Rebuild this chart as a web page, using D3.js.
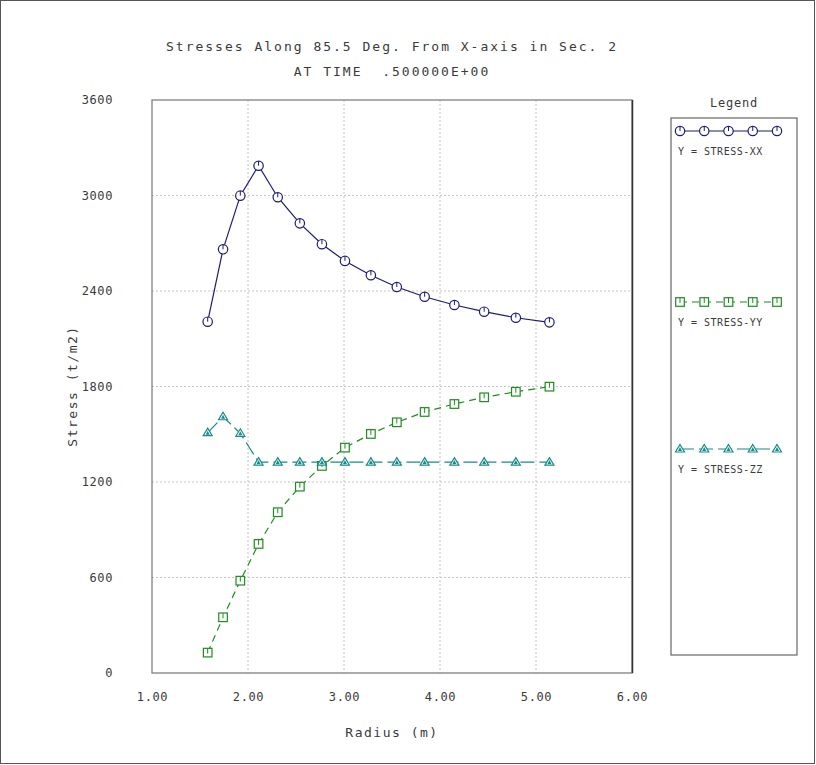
<!DOCTYPE html>
<html lang="en">
<head>
<meta charset="UTF-8">
<title>Stresses Along 85.5 Deg.</title>
<script src="https://d3js.org/d3.v7.min.js"></script>
<style>
    body { margin: 0; background: #fff; }
    svg text { font-family: 'DejaVu Sans Mono', monospace; fill: #3a3a3a; }
</style>
</head>
<body>
<div id="chart"></div>
<script>
    // values
    const radius = [1.58, 1.74, 1.92, 2.11, 2.31, 2.54, 2.77, 3.01, 3.28, 3.55, 3.84, 4.15, 4.46, 4.79, 5.14];
    const stressXX = [2207, 2662, 2999, 3187, 2989, 2825, 2694, 2589, 2499, 2425, 2364, 2312, 2270, 2232, 2203];
    const stressYY = [128, 350, 580, 811, 1010, 1171, 1301, 1416, 1502, 1575, 1640, 1690, 1732, 1767, 1799];
    const stressZZ = [1510, 1610, 1506, 1325, 1325, 1325, 1325, 1325, 1325, 1325, 1325, 1325, 1325, 1325, 1325];
    const xTicks = [1, 2, 3, 4, 5, 6];
    const yTicks = [0, 600, 1200, 1800, 2400, 3000, 3600];
    const seriesNames = ["STRESS-XX", "STRESS-YY", "STRESS-ZZ"];

    const W = 816, H = 765;
    const plot = {left: 152, right: 632, top: 100, bottom: 673};

    const svg = d3.select("#chart").append("svg")
        .attr("width", W).attr("height", H);

    // outer border
    svg.append("rect")
        .attr("x", 0.5).attr("y", 0.5)
        .attr("width", W - 2).attr("height", H - 2)
        .attr("fill", "none").attr("stroke", "#555");

    const x = d3.scaleLinear().domain([1, 6]).range([plot.left, plot.right]);
    const y = d3.scaleLinear().domain([0, 3600]).range([plot.bottom, plot.top]);

    // titles
    svg.append("text").attr("x", 392).attr("y", 51)
        .attr("text-anchor", "middle").attr("font-size", 13).attr("letter-spacing", 2)
        .text("Stresses Along 85.5 Deg. From X-axis in Sec. 2");
    svg.append("text").attr("x", 392).attr("y", 76)
        .attr("text-anchor", "middle").attr("font-size", 13).attr("letter-spacing", 2)
        .attr("xml:space", "preserve").style("white-space", "pre")
        .text("AT TIME  .500000E+00");

    // grid
    const grid = svg.append("g").attr("stroke", "#c4c4c4").attr("stroke-dasharray", "2,2");
    grid.selectAll(".gx").data(xTicks.slice(1, -1)).join("line")
        .attr("x1", d => x(d)).attr("x2", d => x(d))
        .attr("y1", plot.top).attr("y2", plot.bottom);
    grid.selectAll(".gy").data(yTicks.slice(1, -1)).join("line")
        .attr("x1", plot.left).attr("x2", plot.right)
        .attr("y1", d => y(d)).attr("y2", d => y(d));

    // axes (labels only, frame drawn separately)
    const xAxis = svg.append("g").attr("transform", `translate(0,${plot.bottom})`)
        .call(d3.axisBottom(x).tickValues(xTicks).tickFormat(d3.format(".2f")).tickSize(0).tickPadding(19));
    const yAxis = svg.append("g").attr("transform", `translate(${plot.left},0)`)
        .call(d3.axisLeft(y).tickValues(yTicks).tickFormat(d => d).tickSize(0).tickPadding(39));
    [xAxis, yAxis].forEach(a => {
        a.select(".domain").remove();
        a.selectAll("text").attr("font-size", 12).attr("letter-spacing", 0.6)
            .attr("font-family", "'DejaVu Sans Mono', monospace").attr("fill", "#3a3a3a");
    });
    yAxis.selectAll("text").attr("text-anchor", "end").attr("dx", 0);

    // frame
    svg.append("rect")
        .attr("x", plot.left).attr("y", plot.top)
        .attr("width", plot.right - plot.left).attr("height", plot.bottom - plot.top)
        .attr("fill", "none").attr("stroke", "#808080").attr("stroke-width", 1.3);
    svg.append("line")
        .attr("x1", plot.right + 0.5).attr("x2", plot.right + 0.5)
        .attr("y1", plot.top).attr("y2", plot.bottom)
        .attr("stroke", "#333").attr("stroke-width", 1.5);

    // axis titles
    svg.append("text").attr("x", 392).attr("y", 737)
        .attr("text-anchor", "middle").attr("font-size", 13).attr("letter-spacing", 1.5)
        .text("Radius (m)");
    svg.append("text").attr("transform", "translate(77,386) rotate(-90)")
        .attr("text-anchor", "middle").attr("font-size", 13).attr("letter-spacing", 1.5)
        .text("Stress (t/m2)");

    const series = [
        {name: seriesNames[0], values: stressXX, color: "#1c1c78", dash: null, marker: "circle"},
        {name: seriesNames[1], values: stressYY, color: "#1e8c1e", dash: "7,5", marker: "square"},
        {name: seriesNames[2], values: stressZZ, color: "#178a8a", dash: "14,5", marker: "triangle"}
    ];

    function drawMarker(g, kind, color) {
        if (kind === "circle") {
            g.append("circle").attr("r", 4.7)
                .attr("fill", "#fff").attr("stroke", color).attr("stroke-width", 1.2);
            g.append("line").attr("x1", 0).attr("x2", 0).attr("y1", -4.5).attr("y2", 0)
                .attr("stroke", color).attr("stroke-width", 1);
        } else if (kind === "square") {
            g.append("rect").attr("x", -4.3).attr("y", -4.3).attr("width", 8.6).attr("height", 8.6)
                .attr("fill", "#fff").attr("stroke", color).attr("stroke-width", 1.2);
            g.append("line").attr("x1", 0).attr("x2", 0).attr("y1", -4).attr("y2", 1)
                .attr("stroke", color).attr("stroke-width", 1);
        } else {
            g.append("path").attr("d", "M0,-4.5L4.5,3L-4.5,3Z")
                .attr("fill", "#fff").attr("stroke", color).attr("stroke-width", 1.2);
            g.append("path").attr("d", "M0,-2L2,2L-2,2Z").attr("fill", color);
        }
    }

    const line = d3.line().x(d => x(d[0])).y(d => y(d[1]));

    series.forEach(s => {
        const pts = radius.map((r, i) => [r, s.values[i]]);
        svg.append("path").datum(pts)
            .attr("d", line).attr("fill", "none")
            .attr("stroke", s.color).attr("stroke-width", 1.2)
            .attr("stroke-dasharray", s.dash);
        svg.selectAll(null).data(pts).join("g")
            .attr("transform", d => `translate(${x(d[0])},${y(d[1])})`)
            .each(function () { drawMarker(d3.select(this), s.marker, s.color); });
    });

    // legend
    const lg = {left: 671, right: 797, top: 118, bottom: 655};
    svg.append("text").attr("x", (lg.left + lg.right) / 2).attr("y", 107)
        .attr("text-anchor", "middle").attr("font-size", 12).attr("letter-spacing", 0.8)
        .text("Legend");
    svg.append("rect")
        .attr("x", lg.left).attr("y", lg.top)
        .attr("width", lg.right - lg.left).attr("height", lg.bottom - lg.top)
        .attr("fill", "none").attr("stroke", "#666").attr("stroke-width", 1.2);

    const legendY = [131, 302, 449];
    const legendX = d3.scaleLinear().domain([0, 4]).range([680, 777]);
    series.forEach((s, i) => {
        const ly = legendY[i];
        svg.append("line")
            .attr("x1", legendX(0)).attr("x2", legendX(4))
            .attr("y1", ly).attr("y2", ly)
            .attr("stroke", s.color).attr("stroke-width", 1.2)
            .attr("stroke-dasharray", s.dash);
        svg.selectAll(null).data(d3.range(5)).join("g")
            .attr("transform", k => `translate(${legendX(k)},${ly})`)
            .each(function () { drawMarker(d3.select(this), s.marker, s.color); });
        svg.append("text").attr("x", 678).attr("y", ly + 24)
            .attr("font-size", 10).attr("letter-spacing", 0.5)
            .attr("font-family", "'DejaVu Sans', sans-serif")
            .attr("xml:space", "preserve").style("white-space", "pre")
            .text("Y = " + s.name);
    });
</script>
</body>
</html>
